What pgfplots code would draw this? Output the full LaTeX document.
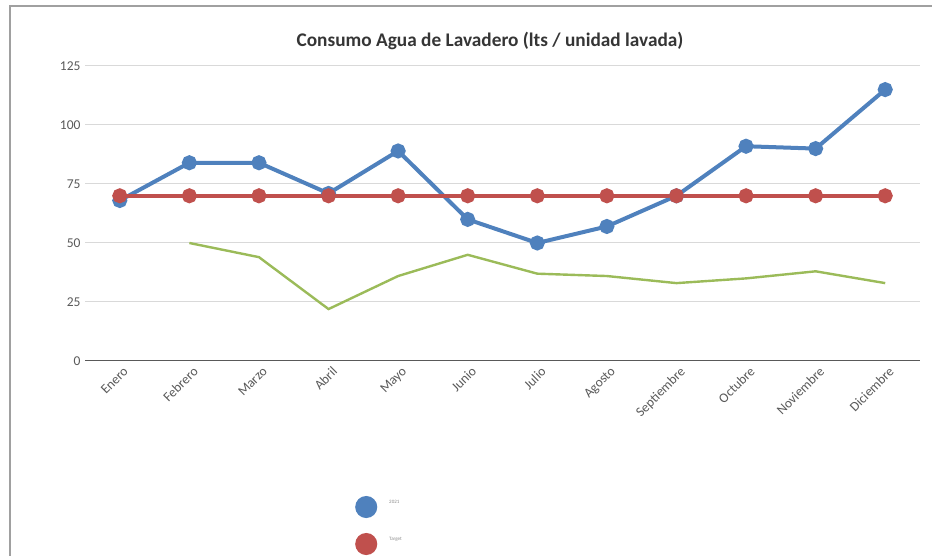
\documentclass[border=0pt]{standalone}
\usepackage{pgfplots}
\pgfplotsset{compat=1.18}
\usepackage{fontspec}
\setmainfont{Carlito}
\definecolor{c2021}{HTML}{4F81BD}
\definecolor{ctarget}{HTML}{C0504D}
\definecolor{cgreen}{HTML}{9BBB59}
\definecolor{txtgray}{HTML}{595959}
\definecolor{gridgray}{HTML}{D9D9D9}
\definecolor{framegray}{HTML}{A0A0A0}
\begin{document}
\begin{tikzpicture}
\useasboundingbox (0pt,0pt) rectangle (932pt,556pt);
\draw[framegray,line width=2pt] (9.5pt,0pt) -- (9.5pt,550pt) -- (932pt,550pt);
\begin{axis}[
  at={(85pt,195pt)}, anchor=south west,
  scale only axis, width=835pt, height=295pt,
  xmin=-0.5, xmax=11.5, ymin=0, ymax=125,
  xtick={0,...,11},
  xticklabels={Enero,Febrero,Marzo,Abril,Mayo,Junio,Julio,Agosto,Septiembre,Octubre,Noviembre,Diciembre},
  ytick={0,25,50,75,100,125},
  axis x line*=bottom, axis y line*=left,
  x axis line style={draw=txtgray, line width=1pt, -},
  y axis line style={draw=none},
  tick style={draw=none},
  major tick length=0pt,
  ymajorgrids, grid style={gridgray, line width=1pt},
  xticklabel style={rotate=45, anchor=north east, font=\fontsize{13.5}{15}\selectfont, text=txtgray, xshift=2pt, yshift=-2pt},
  yticklabel style={font=\fontsize{13.5}{15}\selectfont, text=txtgray, xshift=-1pt},
  /pgf/number format/assume math mode=true,
  title={\bfseries Consumo Agua de Lavadero (lts / unidad lavada)},
  title style={at={(0.485,1.064)}, anchor=center, font=\fontsize{19.3}{22}\selectfont, text=txtgray!60!black},
  legend style={at={(0.3234,-0.457)}, anchor=north west, draw=none, fill=none, inner sep=0pt, row sep=15pt, font=\fontsize{5}{6}\selectfont, text=txtgray!70},
  legend cell align=left,
  clip=false,
]
\addplot[c2021, line width=4pt, mark=*, mark size=5.5pt, mark options={solid, draw=none, fill=c2021},
  legend image code/.code={\fill[c2021] (9pt,0) circle (9pt);}]
  coordinates {(0,68) (1,84) (2,84) (3,71) (4,89) (5,60) (6,50) (7,57) (8,70) (9,91) (10,90) (11,115)};
\addlegendentry{\hspace{10pt}\raisebox{8pt}{2021}}
\addplot[ctarget, line width=4pt, mark=*, mark size=5.5pt, mark options={solid, draw=none, fill=ctarget},
  legend image code/.code={\fill[ctarget] (9pt,0) circle (9pt);}]
  coordinates {(0,70) (1,70) (2,70) (3,70) (4,70) (5,70) (6,70) (7,70) (8,70) (9,70) (10,70) (11,70)};
\addlegendentry{\hspace{10pt}\raisebox{8pt}{Target}}
\addplot[cgreen, line width=2.4pt, no marks]
  coordinates {(1,50) (2,44) (3,22) (4,36) (5,45) (6,37) (7,36) (8,33) (9,35) (10,38) (11,33)};
\end{axis}
\end{tikzpicture}
\end{document}
